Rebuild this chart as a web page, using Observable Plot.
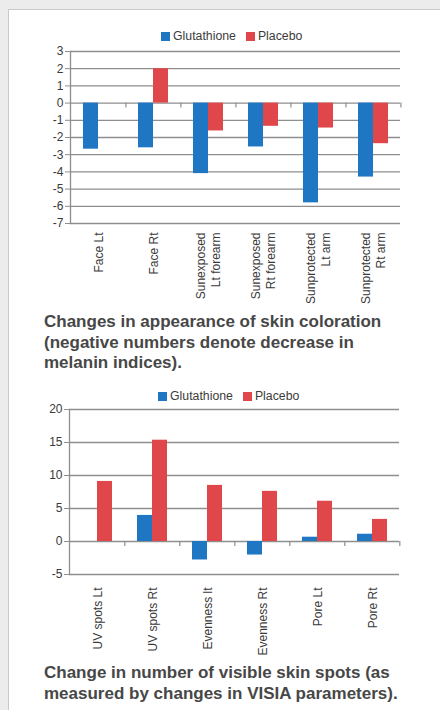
<!DOCTYPE html>
<html>
<head>
<meta charset="utf-8">
<script src="https://cdn.jsdelivr.net/npm/d3@7"></script>
<script src="https://cdn.jsdelivr.net/npm/@observablehq/plot@0.6"></script>
<style>
  html, body { margin: 0; padding: 0; }
  body { width: 440px; height: 710px; background: #ececec; position: relative; overflow: hidden;
         font-family: "Liberation Sans", Arial, sans-serif; }
  #panel { position: absolute; left: 8px; top: 9px; width: 440px; height: 710px; background: #fff;
           border-top: 1.5px solid #c9c9c9; border-left: 1.5px solid #c9c9c9; }
  .chart { position: absolute; left: 0; }
  .legend { position: absolute; display: flex; align-items: center; font-size: 12.3px; color: #3c3c3c; white-space: nowrap; }
  .legend .sw { width: 9px; height: 9px; margin-right: 3px; }
  .legend .item { display: flex; align-items: center; margin-right: 10px; }
  .caption { position: absolute; left: 44px; font-weight: bold; font-size: 17px; line-height: 20.5px; color: #474747; white-space: nowrap; }
</style>
</head>
<body>
<div id="panel"></div>
<div id="legend1" class="legend" style="left:161px; top:29px;"></div>
<div id="chart1" class="chart" style="top:40px;"></div>
<div class="caption" style="top:312px;">Changes in appearance of skin coloration<br>(negative numbers denote decrease in<br>melanin indices).</div>
<div id="legend2" class="legend" style="left:158px; top:389px;"></div>
<div id="chart2" class="chart" style="top:400px;"></div>
<div class="caption" style="top:663px;">Change in number of visible skin spots (as<br>measured by changes in VISIA parameters).</div>
<script>
const seriesNames = ["Glutathione", "Placebo"];
const seriesColors = ["#1f77c4", "#e0474a"];

const categories1 = ["Face Lt", "Face Rt", "Sunexposed\nLt forearm", "Sunexposed\nRt forearm", "Sunprotected\nLt arm", "Sunprotected\nRt arm"];
const glutathione1 = [-2.68, -2.6, -4.1, -2.55, -5.8, -4.3];
const placebo1 = [0, 2.0, -1.62, -1.35, -1.45, -2.36];
const yTicks1 = [3, 2, 1, 0, -1, -2, -3, -4, -5, -6, -7];

const categories2 = ["UV spots Lt", "UV spots Rt", "Evenness lt", "Evenness Rt", "Pore Lt", "Pore Rt"];
const glutathione2 = [0, 3.95, -2.8, -2.05, 0.65, 1.1];
const placebo2 = [9.1, 15.35, 8.5, 7.6, 6.1, 3.35];
const yTicks2 = [20, 15, 10, 5, 0, -5];

function legend(el) {
  const root = document.getElementById(el);
  seriesNames.forEach((s, i) => {
    const item = document.createElement("div");
    item.className = "item";
    const sw = document.createElement("div");
    sw.className = "sw";
    sw.style.background = seriesColors[i];
    const t = document.createElement("span");
    t.textContent = s;
    item.appendChild(sw); item.appendChild(t);
    root.appendChild(item);
  });
}

function chart(cats, g, p, yTicks, o) {
  const rows = cats.flatMap((c, i) => [
    {cat: c, series: seriesNames[0], value: g[i]},
    {cat: c, series: seriesNames[1], value: p[i]}
  ]);
  const W = 420;
  const band = (W - 67 - o.mr) / cats.length;
  const step = band / 3.5;
  return Plot.plot({
    width: W, height: o.height,
    marginLeft: 67, marginRight: o.mr, marginTop: o.mt, marginBottom: o.mb,
    style: {fontFamily: "'Liberation Sans', Arial, sans-serif", fontSize: "12px", background: "transparent", overflow: "visible"},
    fx: {domain: cats, paddingInner: 0, paddingOuter: 0, axis: null, label: null},
    x: {domain: seriesNames, paddingInner: 0, paddingOuter: 0.75, axis: null},
    y: {domain: [yTicks[yTicks.length - 1], yTicks[0]], axis: null},
    color: {domain: seriesNames, range: seriesColors},
    marks: [
      Plot.ruleY(yTicks, {stroke: "#8e8e8e", strokeWidth: 1.3}),
      Plot.barY(rows, {fx: "cat", x: "series", y: "value", fill: "series"}),
      Plot.ruleX(cats, {fx: d => d, x: () => seriesNames[1], y1: 0, y2: 0, insetBottom: -5, dx: 1.25 * step, stroke: "#8e8e8e", strokeWidth: 1.2}),
      Plot.axisY({ticks: yTicks, tickFormat: d => String(d), tickSize: 5, tickPadding: 2, stroke: "#8e8e8e", fill: "#3a3a3a", fontSize: 12, label: null}),
      Plot.frame({anchor: "left", facetAnchor: "left", stroke: "#8e8e8e", strokeWidth: 1.3}),
      Plot.text(cats, {fx: d => d, text: d => d, frameAnchor: "bottom", rotate: -90, textAnchor: "end", lineAnchor: "middle", lineHeight: 1.25, dy: o.gap, fontSize: 12, fill: "#3a3a3a"})
    ]
  });
}

legend("legend1");
legend("legend2");
document.getElementById("chart1").appendChild(chart(categories1, glutathione1, placebo1, yTicks1, {height: 270, mt: 11, mb: 87, mr: 18, gap: 9}));
document.getElementById("chart2").appendChild(chart(categories2, glutathione2, placebo2, yTicks2, {height: 260, mt: 9, mb: 86, mr: 20, gap: 13}));
</script>
</body>
</html>
